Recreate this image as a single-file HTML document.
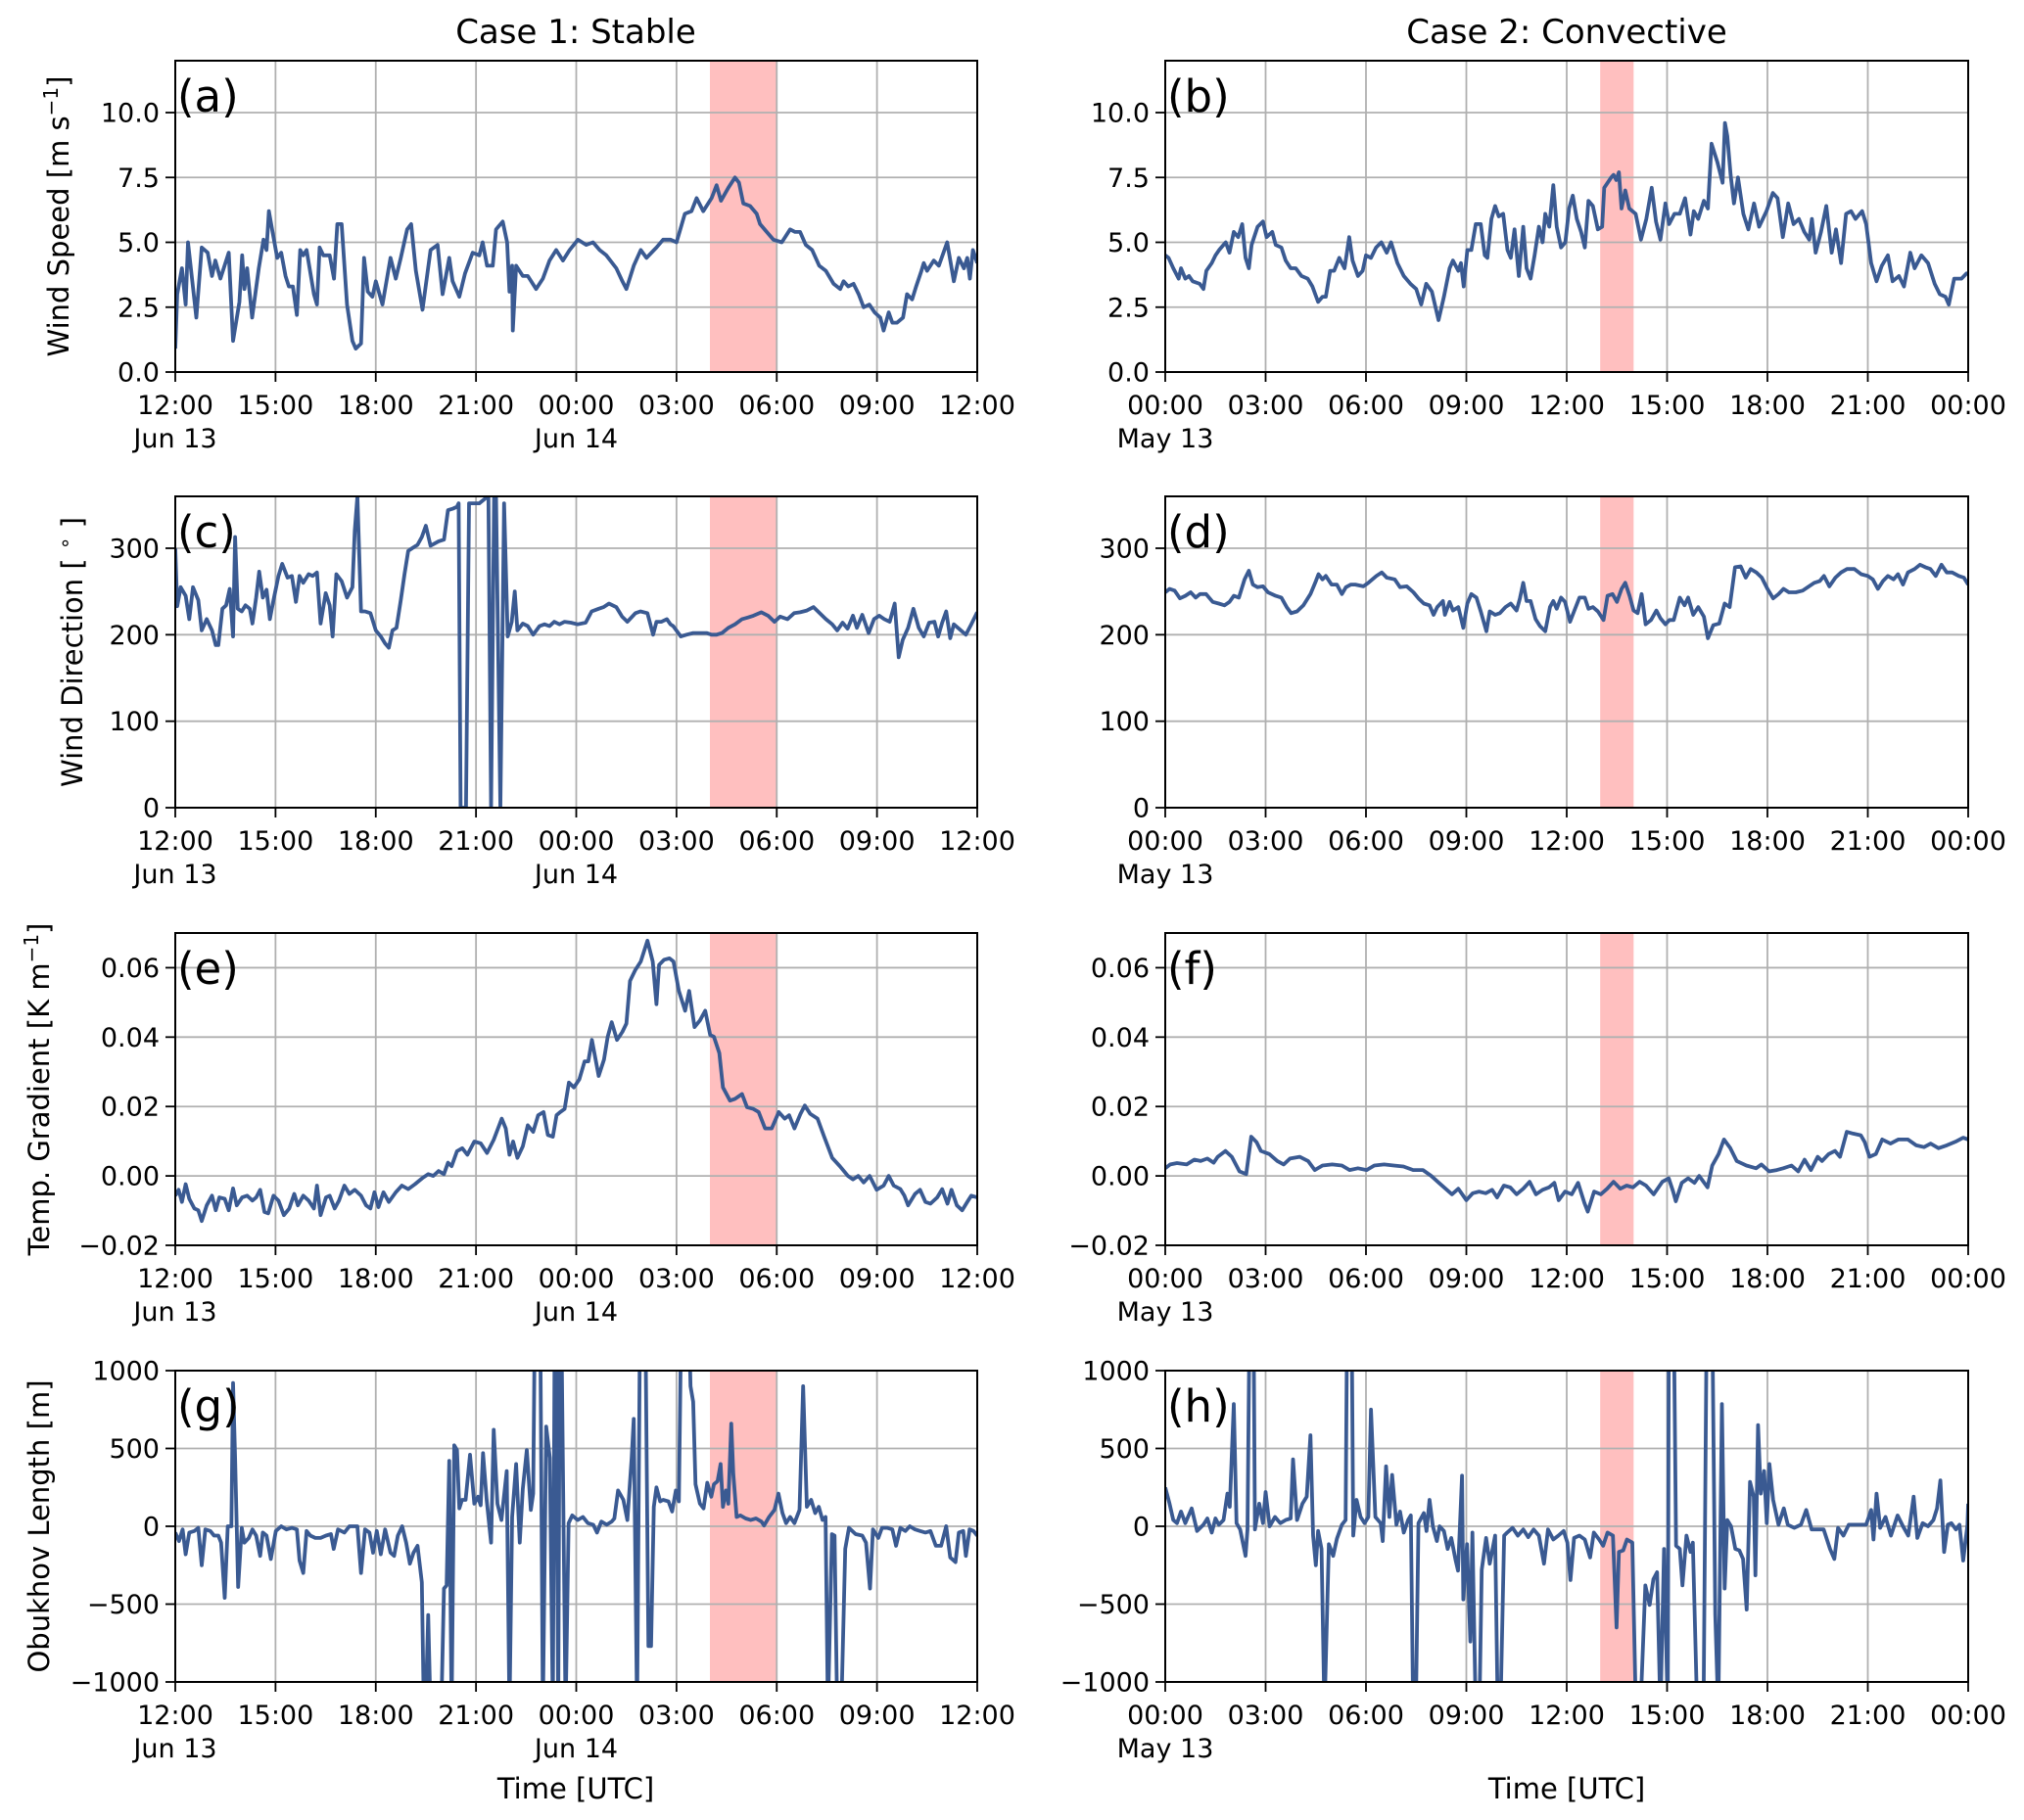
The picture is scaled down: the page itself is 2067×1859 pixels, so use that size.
<!DOCTYPE html>
<html><head><meta charset="utf-8">
<style>
html,body{margin:0;padding:0;background:#fff;}
svg{display:block;font-family:"DejaVu Sans","Liberation Sans",sans-serif;}
</style></head>
<body>
<svg id="fig" width="2067" height="1859" viewBox="0 0 2067 1859" xmlns="http://www.w3.org/2000/svg">
<rect x="0" y="0" width="2067" height="1859" fill="#fff"/>
<text x="588" y="44" font-size="34" text-anchor="middle">Case 1: Stable</text>
<text x="1600" y="44" font-size="34" text-anchor="middle">Case 2: Convective</text>
<text x="588" y="1837" font-size="29" text-anchor="middle">Time [UTC]</text>
<text x="1600" y="1837" font-size="29" text-anchor="middle">Time [UTC]</text>
</svg>
<script>
// ---- data (hours from start, values) ----
const aT=[0,0.06,0.2,0.31,0.38,0.63,0.79,0.97,1.1,1.2,1.35,1.6,1.73,1.92,2.0,2.07,2.15,2.3,2.5,2.64,2.73,2.8,2.94,3.05,3.17,3.3,3.4,3.52,3.64,3.74,3.83,3.93,4.15,4.24,4.32,4.43,4.62,4.75,4.85,4.98,5.14,5.3,5.4,5.56,5.65,5.76,5.9,6.0,6.2,6.44,6.6,6.75,6.94,7.06,7.2,7.4,7.64,7.85,8.0,8.2,8.3,8.5,8.67,8.9,9.1,9.2,9.33,9.5,9.6,9.8,9.93,10.0,10.08,10.1,10.2,10.4,10.55,10.8,11.0,11.2,11.4,11.6,11.8,12.05,12.3,12.5,12.7,12.9,13.2,13.38,13.5,13.72,13.93,14.1,14.4,14.6,14.82,15.0,15.25,15.45,15.6,15.8,16.05,16.2,16.33,16.55,16.75,16.87,17.0,17.2,17.4,17.5,17.7,17.9,18.15,18.4,18.55,18.7,18.87,19.06,19.27,19.47,19.7,19.9,20.0,20.14,20.3,20.45,20.6,20.77,20.93,21.1,21.2,21.35,21.46,21.6,21.78,21.9,22.05,22.17,22.33,22.4,22.5,22.7,22.85,23.1,23.3,23.45,23.6,23.7,23.78,23.87,24.0];
const aV=[0.9,3.0,4.0,2.6,5.0,2.1,4.8,4.6,3.7,4.3,3.6,4.6,1.2,2.7,4.5,3.2,4.0,2.1,4.0,5.1,4.7,6.2,5.2,4.4,4.6,3.7,3.3,3.3,2.2,4.7,4.5,4.7,3.0,2.6,4.8,4.5,4.5,3.6,5.7,5.7,2.6,1.2,0.9,1.1,4.4,3.1,2.9,3.5,2.6,4.4,3.6,4.4,5.5,5.7,3.9,2.4,4.7,4.9,3.0,4.4,3.5,2.9,3.8,4.6,4.5,5.0,4.1,4.1,5.5,5.8,5.0,3.1,4.1,1.6,4.1,3.7,3.7,3.2,3.6,4.3,4.7,4.3,4.7,5.1,4.9,5.0,4.7,4.5,4.0,3.5,3.2,4.1,4.7,4.4,4.8,5.1,5.1,5.0,6.1,6.2,6.7,6.2,6.7,7.2,6.6,7.1,7.5,7.3,6.5,6.4,6.1,5.7,5.4,5.1,5.0,5.5,5.4,5.4,4.9,4.7,4.1,3.9,3.4,3.2,3.5,3.3,3.4,3.0,2.5,2.6,2.3,2.1,1.6,2.3,1.9,1.9,2.1,3.0,2.8,3.3,3.9,4.2,3.9,4.3,4.1,5.0,3.5,4.4,4.0,4.4,3.6,4.7,4.2];
const bT=[0,0.1,0.24,0.4,0.47,0.6,0.71,0.82,1.03,1.14,1.23,1.39,1.5,1.61,1.74,1.81,1.92,2.05,2.18,2.3,2.4,2.5,2.58,2.76,2.92,3.03,3.2,3.3,3.47,3.6,3.75,3.9,4.07,4.26,4.4,4.57,4.7,4.8,4.93,5.05,5.2,5.36,5.5,5.6,5.76,5.9,6.0,6.15,6.3,6.46,6.62,6.75,6.94,7.13,7.33,7.5,7.65,7.8,7.97,8.17,8.33,8.5,8.6,8.76,8.84,8.92,9.03,9.15,9.28,9.43,9.55,9.63,9.75,9.86,9.97,10.1,10.23,10.33,10.44,10.57,10.7,10.8,10.92,11.04,11.17,11.28,11.36,11.48,11.6,11.7,11.83,11.96,12.07,12.18,12.3,12.43,12.54,12.65,12.78,12.93,13.06,13.12,13.33,13.4,13.48,13.56,13.64,13.75,13.87,14.06,14.22,14.38,14.54,14.67,14.8,14.95,15.06,15.22,15.38,15.54,15.7,15.8,15.93,16.1,16.22,16.33,16.5,16.66,16.73,16.8,16.9,17.0,17.12,17.28,17.43,17.6,17.75,17.97,18.16,18.3,18.46,18.62,18.78,18.94,19.1,19.25,19.33,19.44,19.6,19.76,19.92,20.05,20.2,20.35,20.5,20.63,20.83,20.95,21.1,21.26,21.42,21.6,21.74,21.93,22.08,22.27,22.4,22.6,22.8,23.0,23.15,23.32,23.42,23.58,23.8,23.95,24.0];
const bV=[4.5,4.4,4.0,3.6,4.0,3.6,3.7,3.5,3.4,3.2,3.9,4.2,4.5,4.7,4.9,5.0,4.6,5.4,5.2,5.7,4.4,4.0,4.9,5.6,5.8,5.2,5.4,4.9,4.8,4.3,4.0,4.0,3.7,3.6,3.3,2.7,2.9,2.9,3.9,3.9,4.4,4.0,5.2,4.3,3.7,3.9,4.5,4.4,4.8,5.0,4.6,5.0,4.2,3.7,3.4,3.2,2.6,3.4,3.1,2.0,2.9,4.0,4.3,3.9,4.2,3.3,4.7,4.7,5.7,5.7,4.5,4.4,5.9,6.4,6.0,6.1,4.7,4.4,5.5,3.7,5.6,4.0,3.6,4.5,5.6,5.0,6.1,5.6,7.2,5.6,4.8,5.0,6.3,6.8,5.9,5.4,4.8,6.6,6.4,5.5,5.6,7.1,7.5,7.6,7.4,7.7,6.3,7.0,6.3,6.1,5.1,5.9,7.1,5.8,5.1,6.5,5.7,6.1,6.1,6.7,5.3,6.2,5.9,6.6,6.3,8.8,8.1,7.3,9.6,9.1,7.6,6.5,7.5,6.1,5.5,6.5,5.6,6.2,6.9,6.7,5.2,6.5,5.7,5.9,5.4,5.1,5.9,4.6,5.4,6.4,4.6,5.5,4.2,6.1,6.2,5.9,6.2,5.7,4.2,3.5,4.1,4.5,3.5,3.7,3.3,4.6,4.0,4.5,4.2,3.4,3.0,2.9,2.6,3.6,3.6,3.8,3.8];
const cT=[0,0.06,0.16,0.31,0.42,0.53,0.69,0.79,0.94,1.1,1.21,1.29,1.41,1.52,1.63,1.73,1.79,1.87,1.99,2.1,2.23,2.31,2.42,2.51,2.62,2.73,2.83,2.94,3.09,3.2,3.36,3.49,3.61,3.72,3.83,3.99,4.11,4.24,4.35,4.5,4.62,4.71,4.82,4.98,5.14,5.3,5.37,5.45,5.56,5.68,5.84,6.0,6.15,6.28,6.39,6.5,6.62,6.75,6.86,6.97,7.09,7.25,7.38,7.5,7.64,7.88,8.04,8.16,8.32,8.43,8.48,8.54,8.7,8.79,9.1,9.29,9.37,9.45,9.54,9.6,9.73,9.84,9.95,10.07,10.16,10.24,10.4,10.55,10.71,10.9,11.05,11.2,11.34,11.5,11.65,11.84,12.04,12.28,12.46,12.67,12.82,12.98,13.2,13.37,13.53,13.77,13.92,14.13,14.3,14.4,14.55,14.71,14.82,14.9,15.13,15.3,15.5,15.73,15.9,16.05,16.2,16.36,16.55,16.75,16.96,17.14,17.3,17.54,17.74,17.93,18.1,18.32,18.52,18.7,18.9,19.1,19.26,19.47,19.66,19.81,19.97,20.12,20.28,20.4,20.56,20.75,20.91,21.07,21.22,21.38,21.53,21.65,21.77,21.93,22.09,22.25,22.4,22.56,22.72,22.83,22.95,23.07,23.19,23.3,23.45,23.66,23.82,24.0];
const cV=[300,233,255,245,218,255,240,205,218,205,188,188,230,234,253,198,313,230,227,234,230,213,243,273,243,252,218,240,268,282,266,268,238,268,260,270,268,272,213,248,234,198,270,262,243,255,320,360,227,227,225,205,198,190,185,205,208,240,270,297,300,304,313,326,303,308,310,344,346,348,352,0,0,352,352,358,360,0,360,358,0,352,198,215,250,205,213,210,200,210,212,210,215,212,215,214,212,214,227,230,232,236,232,221,215,225,227,225,200,215,215,218,212,210,198,200,202,202,202,200,200,202,208,212,218,220,222,226,222,215,221,218,225,226,228,232,226,218,212,205,214,207,222,208,223,202,218,222,218,215,236,174,194,208,230,208,198,214,215,198,214,227,196,212,207,200,212,226];
const dT=[0,0.13,0.28,0.44,0.6,0.76,0.91,1.04,1.22,1.42,1.6,1.77,1.92,2.05,2.2,2.37,2.5,2.62,2.76,2.92,3.07,3.3,3.47,3.63,3.76,3.94,4.13,4.34,4.5,4.58,4.7,4.8,4.97,5.13,5.28,5.4,5.55,5.68,5.92,6.07,6.31,6.47,6.62,6.86,7.02,7.22,7.42,7.57,7.73,7.9,8.02,8.13,8.3,8.36,8.5,8.6,8.76,8.91,9.03,9.15,9.3,9.43,9.6,9.7,9.86,10.0,10.17,10.33,10.5,10.6,10.7,10.8,10.92,11.07,11.2,11.36,11.5,11.6,11.7,11.83,11.95,12.1,12.22,12.38,12.54,12.65,12.78,12.93,13.1,13.22,13.37,13.5,13.64,13.75,13.88,14.0,14.12,14.24,14.36,14.52,14.68,14.8,14.95,15.07,15.2,15.38,15.52,15.63,15.78,15.93,16.1,16.22,16.38,16.56,16.72,16.87,17.03,17.2,17.35,17.5,17.67,17.83,18.0,18.17,18.33,18.48,18.64,18.85,19.05,19.24,19.4,19.56,19.69,19.85,20.03,20.2,20.38,20.6,20.8,21.0,21.15,21.3,21.45,21.6,21.77,21.9,22.05,22.2,22.4,22.56,22.72,22.87,23.03,23.2,23.36,23.52,23.72,23.87,24.0];
const dV=[249,253,251,242,245,249,243,247,247,238,236,234,238,245,243,264,274,258,255,256,249,245,243,232,225,227,234,247,262,270,264,268,258,258,247,255,258,258,256,260,268,272,266,264,255,256,249,242,236,234,223,232,239,223,238,228,232,208,236,247,243,227,204,227,223,225,232,236,228,242,260,239,239,218,210,204,232,239,230,243,238,215,227,243,243,230,232,227,217,245,247,238,253,260,245,228,225,247,212,217,228,219,212,217,217,243,234,243,223,232,221,196,211,213,236,232,278,279,266,276,272,266,253,242,247,253,249,249,251,256,260,262,268,256,266,272,276,276,270,268,264,253,262,268,264,270,258,272,276,281,278,276,268,281,272,272,268,266,258];
const eT=[0,0.1,0.2,0.31,0.42,0.57,0.69,0.79,0.94,1.1,1.21,1.32,1.48,1.6,1.73,1.84,2.0,2.15,2.31,2.42,2.54,2.67,2.78,2.94,3.09,3.25,3.41,3.56,3.67,3.83,3.99,4.15,4.24,4.35,4.51,4.62,4.77,4.9,5.06,5.21,5.37,5.56,5.71,5.84,5.96,6.08,6.23,6.39,6.6,6.78,6.97,7.17,7.41,7.57,7.72,7.88,8.04,8.16,8.27,8.43,8.59,8.74,8.95,9.14,9.33,9.53,9.77,9.89,10.0,10.11,10.24,10.4,10.55,10.71,10.86,11.02,11.15,11.3,11.41,11.52,11.65,11.78,11.93,12.09,12.25,12.36,12.47,12.67,12.83,12.94,13.06,13.22,13.38,13.5,13.61,13.77,13.93,14.13,14.29,14.4,14.48,14.63,14.79,14.91,15.07,15.26,15.38,15.54,15.7,15.86,16.01,16.12,16.28,16.39,16.6,16.75,16.96,17.11,17.3,17.46,17.65,17.85,18.06,18.24,18.37,18.53,18.71,18.84,19.0,19.22,19.42,19.66,19.89,20.13,20.28,20.44,20.6,20.78,20.99,21.2,21.35,21.5,21.7,21.82,21.93,22.14,22.29,22.45,22.6,22.8,22.95,23.11,23.23,23.39,23.55,23.7,23.82,24.0];
const eV=[-0.0057,-0.004,-0.0075,-0.0024,-0.0066,-0.0094,-0.0099,-0.013,-0.0085,-0.0057,-0.0099,-0.0062,-0.0066,-0.0099,-0.0036,-0.0085,-0.0062,-0.0057,-0.0071,-0.0062,-0.004,-0.0104,-0.0108,-0.0057,-0.0071,-0.0113,-0.0094,-0.0052,-0.0085,-0.0057,-0.0071,-0.0094,-0.0028,-0.0113,-0.0062,-0.0057,-0.0094,-0.0071,-0.0028,-0.0052,-0.004,-0.0057,-0.0085,-0.0094,-0.0047,-0.009,-0.0047,-0.0075,-0.0047,-0.0028,-0.0038,-0.0024,-0.0005,0.0005,0.0,0.0014,0.0005,0.0038,0.0028,0.0071,0.008,0.0061,0.0099,0.0094,0.0066,0.0104,0.0165,0.0137,0.0061,0.0099,0.0052,0.0085,0.0146,0.0127,0.0175,0.0184,0.0118,0.0113,0.0175,0.0184,0.0193,0.0269,0.0255,0.0278,0.033,0.033,0.0392,0.0288,0.0335,0.0401,0.0443,0.0392,0.0415,0.0439,0.0562,0.0594,0.0618,0.0678,0.0618,0.0495,0.0608,0.0623,0.0627,0.0618,0.0533,0.0476,0.0533,0.0429,0.0448,0.0476,0.0406,0.0401,0.0354,0.0255,0.0217,0.0222,0.0236,0.0198,0.0193,0.0184,0.0137,0.0137,0.0184,0.0165,0.0175,0.0137,0.0179,0.0203,0.0179,0.0165,0.0113,0.0052,0.0028,0.0,-0.001,0.0,-0.0019,0.0,-0.004,-0.0028,0.0,-0.0028,-0.0038,-0.0057,-0.0085,-0.0052,-0.004,-0.0075,-0.008,-0.0062,-0.0038,-0.008,-0.004,-0.0085,-0.0099,-0.0075,-0.0057,-0.0062];
const fT=[0,0.15,0.35,0.64,0.87,1.06,1.26,1.45,1.57,1.8,1.99,2.22,2.42,2.57,2.73,2.86,3.11,3.35,3.54,3.73,4.02,4.27,4.47,4.7,4.99,5.28,5.51,5.76,6.02,6.25,6.54,6.83,7.12,7.41,7.7,7.95,8.18,8.38,8.57,8.76,9.0,9.19,9.38,9.58,9.77,9.92,10.12,10.31,10.5,10.7,10.89,11.08,11.28,11.47,11.63,11.76,11.95,12.15,12.34,12.53,12.63,12.82,13.02,13.21,13.4,13.6,13.79,13.98,14.18,14.37,14.6,14.86,15.05,15.18,15.26,15.44,15.63,15.82,15.96,16.21,16.35,16.54,16.7,16.89,17.08,17.37,17.66,17.82,18.05,18.28,18.47,18.72,18.92,19.11,19.3,19.5,19.63,19.83,20.02,20.17,20.37,20.56,20.79,20.91,21.05,21.24,21.43,21.68,21.91,22.2,22.45,22.68,22.88,23.11,23.36,23.65,23.85,24.0];
const fV=[0.0022,0.0033,0.0037,0.0033,0.0047,0.0043,0.005,0.0038,0.0055,0.0072,0.0055,0.0013,0.0005,0.0113,0.0097,0.0072,0.0063,0.0043,0.0033,0.005,0.0055,0.0043,0.0017,0.003,0.0033,0.003,0.0017,0.0022,0.0017,0.003,0.0033,0.003,0.0027,0.0017,0.0017,0.0,-0.002,-0.0037,-0.0053,-0.0037,-0.007,-0.005,-0.0045,-0.005,-0.004,-0.0062,-0.0028,-0.0033,-0.0053,-0.0037,-0.0017,-0.0053,-0.004,-0.0033,-0.002,-0.007,-0.0045,-0.0053,-0.002,-0.0078,-0.0103,-0.0045,-0.0053,-0.0037,-0.0017,-0.0037,-0.0028,-0.0033,-0.0017,-0.0028,-0.0053,-0.0017,-0.0007,-0.0045,-0.0073,-0.002,-0.0007,-0.002,0.0,-0.0033,0.003,0.0063,0.0105,0.008,0.0043,0.003,0.0022,0.0033,0.0013,0.0017,0.0022,0.003,0.0013,0.0047,0.0017,0.0055,0.0043,0.0063,0.0072,0.0055,0.0127,0.0122,0.0117,0.0097,0.0055,0.0063,0.0105,0.0093,0.0105,0.0105,0.0088,0.0083,0.0093,0.008,0.0088,0.01,0.011,0.0105];
const gT=[0,0.11,0.22,0.31,0.42,0.57,0.69,0.79,0.9,1.05,1.16,1.29,1.37,1.48,1.57,1.68,1.73,1.79,1.88,1.99,2.07,2.2,2.31,2.42,2.54,2.62,2.73,2.86,3.01,3.17,3.33,3.49,3.64,3.72,3.83,3.93,4.04,4.19,4.35,4.51,4.66,4.74,4.87,5.06,5.21,5.34,5.45,5.56,5.68,5.81,5.92,6.03,6.15,6.28,6.44,6.55,6.66,6.79,6.91,7.02,7.13,7.25,7.38,7.44,7.49,7.57,7.64,7.96,8.04,8.12,8.2,8.27,8.35,8.43,8.5,8.58,8.69,8.82,8.95,9.06,9.14,9.21,9.32,9.45,9.53,9.64,9.76,9.92,10.0,10.08,10.2,10.31,10.4,10.52,10.64,10.71,10.79,10.9,11.0,11.1,11.21,11.3,11.37,11.46,11.52,11.68,11.77,11.88,12.04,12.2,12.35,12.51,12.62,12.75,12.91,13.06,13.14,13.25,13.41,13.53,13.66,13.72,13.82,13.93,14.04,14.16,14.24,14.32,14.4,14.51,14.6,14.76,14.87,14.98,15.07,15.18,15.29,15.42,15.5,15.57,15.7,15.81,15.92,16.04,16.12,16.23,16.32,16.39,16.48,16.55,16.64,16.7,16.8,16.91,17.07,17.22,17.38,17.54,17.62,17.77,17.93,18.05,18.17,18.28,18.4,18.53,18.68,18.79,18.9,19.03,19.15,19.26,19.37,19.46,19.53,19.65,19.73,19.81,19.93,20.05,20.16,20.36,20.56,20.67,20.79,20.88,21.04,21.15,21.3,21.46,21.57,21.7,21.85,21.98,22.14,22.29,22.45,22.6,22.76,22.92,23.07,23.19,23.35,23.45,23.58,23.66,23.77,23.89,24.0];
const gV=[-40,-95,-20,-180,-40,-30,-10,-250,-20,-30,-60,-60,-105,-460,0,0,920,440,-390,-10,-105,-75,-20,-60,-190,-40,-60,-210,-30,0,-20,-10,-20,-220,-300,-30,-60,-75,-75,-60,-50,-145,-20,-40,0,0,0,-300,-20,-40,-170,-30,-180,-20,-170,-190,-60,0,-105,-240,-170,-125,-360,-1200,-1200,-570,-1200,-1200,-400,-380,420,-1200,520,490,115,170,170,460,145,190,135,470,170,-105,620,145,40,355,-1200,60,400,-105,240,490,105,210,2000,2000,-1200,640,440,-1200,2000,-1200,2000,-1200,20,70,40,60,20,10,-40,30,10,30,50,230,170,40,440,690,-1200,2000,2000,-770,-770,125,250,160,170,160,95,230,160,2000,2000,900,800,270,145,115,280,190,270,290,400,125,230,145,660,335,60,70,50,40,50,30,5,60,105,210,85,20,60,20,105,900,125,170,85,125,40,60,-1200,-50,-60,-1200,-1200,-145,-10,-50,-60,-105,-400,-20,-75,-10,-10,-20,-125,-10,-30,0,-20,-30,-40,-30,-125,-125,0,-200,-230,-40,-30,-190,-20,-30,-60];
const hT=[0,0.13,0.24,0.35,0.47,0.6,0.79,0.95,1.14,1.26,1.39,1.5,1.6,1.74,1.86,1.93,2.05,2.13,2.24,2.4,2.46,2.55,2.62,2.68,2.81,2.92,3.0,3.12,3.28,3.44,3.6,3.75,3.82,3.94,4.1,4.23,4.34,4.42,4.5,4.57,4.67,4.76,4.89,5.02,5.13,5.28,5.39,5.46,5.55,5.62,5.72,5.84,5.96,6.07,6.15,6.28,6.44,6.5,6.6,6.7,6.78,6.91,7.02,7.13,7.26,7.34,7.41,7.49,7.57,7.73,7.81,7.9,8.0,8.12,8.2,8.33,8.44,8.55,8.68,8.75,8.87,8.91,9.02,9.12,9.18,9.28,9.39,9.46,9.59,9.7,9.86,9.94,10.02,10.13,10.22,10.38,10.54,10.7,10.85,11.01,11.17,11.32,11.44,11.6,11.75,11.91,12.02,12.11,12.22,12.38,12.54,12.7,12.81,12.97,13.09,13.22,13.38,13.49,13.56,13.69,13.8,13.96,14.07,14.2,14.35,14.48,14.59,14.7,14.8,14.91,15.02,15.06,15.17,15.27,15.38,15.46,15.58,15.7,15.77,15.9,16.09,16.21,16.32,16.44,16.53,16.64,16.72,16.8,16.91,17.04,17.16,17.27,17.38,17.48,17.59,17.64,17.72,17.8,17.9,17.98,18.06,18.17,18.33,18.49,18.61,18.8,19.0,19.16,19.32,19.52,19.68,19.87,20.0,20.11,20.27,20.43,20.58,20.79,20.95,21.1,21.17,21.26,21.37,21.53,21.69,21.89,22.05,22.21,22.37,22.48,22.64,22.8,22.96,23.07,23.17,23.28,23.39,23.5,23.63,23.74,23.85,23.98,24.0];
const hV=[250,145,40,20,95,20,115,-30,10,50,-40,50,10,40,210,125,785,20,-20,-190,-20,2000,2000,-20,145,20,220,0,60,20,40,50,430,40,145,190,585,-60,-250,-30,-145,-1200,-115,-190,-80,10,40,2000,2000,-60,170,60,20,60,750,60,20,-95,385,60,330,10,95,-40,40,70,-1200,-1200,20,85,-30,170,0,-95,0,-30,-145,-75,-220,-285,325,-470,-115,-740,-40,-1200,-1200,-280,-75,-240,-60,-1200,-1200,-60,-40,-10,-60,-20,-70,-20,-60,-240,-20,-85,-60,-30,-105,-345,-75,-60,-85,-200,-40,-85,-125,-40,-60,-650,-165,-155,-85,-105,-1200,-1200,-380,-505,-340,-295,-1200,-145,-1200,2000,2000,-125,-145,-380,-60,-165,-105,-1200,-1200,2000,2000,-565,-1200,785,-400,40,0,-145,-155,-210,-535,285,190,-315,650,210,355,20,400,170,10,115,10,-10,10,105,-20,-20,-20,-145,-210,-10,-60,10,10,10,10,105,-85,210,-10,60,-60,70,0,-60,190,-75,20,0,40,115,295,-165,10,20,-20,10,-220,10,145];

// axis settings
const xTickLabelsL=["12:00","15:00","18:00","21:00","00:00","03:00","06:00","09:00","12:00"];
const xTickLabelsR=["00:00","03:00","06:00","09:00","12:00","15:00","18:00","21:00","00:00"];
const ticksA=[0,2.5,5,7.5,10], tickLabA=["0.0","2.5","5.0","7.5","10.0"];
const ticksC=[0,100,200,300], tickLabC=["0","100","200","300"];
const ticksE=[-0.02,0,0.02,0.04,0.06], tickLabE=["\u22120.02","0.00","0.02","0.04","0.06"];
const ticksG=[-1000,-500,0,500,1000], tickLabG=["\u22121000","\u2212500","0","500","1000"];
const shadeL=[16,18], shadeR=[13,14];

const NS="http://www.w3.org/2000/svg";
const svg=document.getElementById('fig');
function mk(tag,attrs,parent){const e=document.createElementNS(NS,tag);for(const k in attrs)e.setAttribute(k,attrs[k]);(parent||svg).appendChild(e);return e;}

const cols=[{x0:179,x1:998},{x0:1190,x1:2010}];
const rows=[{y0:62,y1:380},{y0:507,y1:825},{y0:953,y1:1272},{y0:1400,y1:1718}];

const panels=[
 {id:'a',c:0,r:0,T:aT,V:aV,ymin:0,ymax:12,ticks:ticksA,tl:tickLabA,ylab:'ws'},
 {id:'b',c:1,r:0,T:bT,V:bV,ymin:0,ymax:12,ticks:ticksA,tl:tickLabA},
 {id:'c',c:0,r:1,T:cT,V:cV,ymin:0,ymax:360,ticks:ticksC,tl:tickLabC,ylab:'wd'},
 {id:'d',c:1,r:1,T:dT,V:dV,ymin:0,ymax:360,ticks:ticksC,tl:tickLabC},
 {id:'e',c:0,r:2,T:eT,V:eV,ymin:-0.02,ymax:0.07,ticks:ticksE,tl:tickLabE,ylab:'tg'},
 {id:'f',c:1,r:2,T:fT,V:fV,ymin:-0.02,ymax:0.07,ticks:ticksE,tl:tickLabE},
 {id:'g',c:0,r:3,T:gT,V:gV,ymin:-1000,ymax:1000,ticks:ticksG,tl:tickLabG,ylab:'ol'},
 {id:'h',c:1,r:3,T:hT,V:hV,ymin:-1000,ymax:1000,ticks:ticksG,tl:tickLabG}
];

panels.forEach(p=>{
 const C=cols[p.c],R=rows[p.r];
 const xs=h=>C.x0+(h/24)*(C.x1-C.x0);
 const ys=v=>R.y1-(v-p.ymin)/(p.ymax-p.ymin)*(R.y1-R.y0);
 const g=mk('g',{});
 
 
 const cp=mk('clipPath',{id:'clip'+p.id},g);
 mk('rect',{x:C.x0,y:R.y0,width:C.x1-C.x0,height:R.y1-R.y0},cp);
 const sh=p.c===0?shadeL:shadeR;
 const s=mk('rect',{x:xs(sh[0]),y:R.y0,width:xs(sh[1])-xs(sh[0]),height:R.y1-R.y0,fill:'#ffbfbf'},g);
 
 
 for(let i=0;i<=8;i++){
  const x=xs(i*3);
  const l=mk('line',{x1:x,x2:x,y1:R.y0,y2:R.y1,stroke:'#b0b0b0','stroke-width':1.8},g);
  
  
 }
 p.ticks.forEach(v=>{
  const y=ys(v);
  const l=mk('line',{x1:C.x0,x2:C.x1,y1:y,y2:y,stroke:'#b0b0b0','stroke-width':1.8},g);
  
  
 });
 let d='';
 p.T.forEach((t,i)=>{d+=(i?'L':'M')+xs(t).toFixed(1)+' '+ys(p.V[i]).toFixed(1);});
 const path=mk('path',{d:d,fill:'none',stroke:'#3a5a92','stroke-width':3.8,'stroke-linejoin':'round','clip-path':'url(#clip'+p.id+')'},g);
 
 
 const fr=mk('rect',{x:C.x0,y:R.y0,width:C.x1-C.x0,height:R.y1-R.y0,fill:'none',stroke:'#000','stroke-width':2},g);
 
 
 p.ticks.forEach((v,i)=>{
  const y=ys(v);
  mk('line',{x1:C.x0-10,x2:C.x0,y1:y,y2:y,stroke:'#000','stroke-width':1.8},g);
  const t=mk('text',{x:C.x0-16,y:y+9.5,'font-size':27,'text-anchor':'end'},g);
  t.textContent=p.tl[i];
  
  
 });
 const xl=p.c===0?xTickLabelsL:xTickLabelsR;
 xl.forEach((lab,i)=>{
  const x=xs(i*3);
  mk('line',{x1:x,x2:x,y1:R.y1,y2:R.y1+10,stroke:'#000','stroke-width':1.8},g);
  const t=mk('text',{x:x,y:R.y1+43,'font-size':27,'text-anchor':'middle'},g);
  t.textContent=lab;
  
  
 });
 const dates=p.c===0?[[0,'Jun 13'],[12,'Jun 14']]:[[0,'May 13']];
 dates.forEach(dd=>{
  const t=mk('text',{x:xs(dd[0]),y:R.y1+77,'font-size':27,'text-anchor':'middle'},g);
  t.textContent=dd[1];
  
  
 });
 const pl=mk('text',{x:C.x0+2,y:R.y0+52,'font-size':45},g);
 pl.textContent='('+p.id+')';
 
 
 if(p.ylab){
  const cy=(R.y0+R.y1)/2;
  const xx=p.ylab==='ws'?70:(p.ylab==='wd'?84:50);
  const t=mk('text',{x:xx,y:cy,'font-size':29,'text-anchor':'middle',transform:'rotate(-90 '+xx+' '+cy+')'},g);
  if(p.ylab==='ws'){t.innerHTML='Wind Speed [m s<tspan dy="-11" font-size="20">\u22121</tspan><tspan dy="11">]</tspan>';}
  else if(p.ylab==='wd'){t.innerHTML='Wind Direction [ <tspan dy="-11" font-size="20">\u2218</tspan><tspan dy="11"> ]</tspan>';}
  else if(p.ylab==='tg'){t.innerHTML='Temp. Gradient [K m<tspan dy="-11" font-size="20">\u22121</tspan><tspan dy="11">]</tspan>';}
  else {t.textContent='Obukhov Length [m]';}
  
  
 }
});
</script>
</body></html>
